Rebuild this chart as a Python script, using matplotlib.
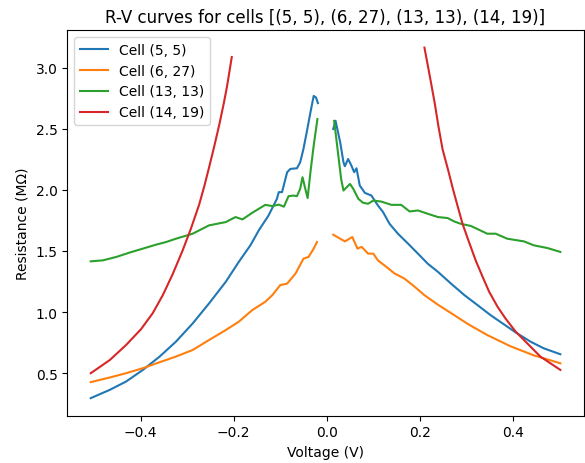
import numpy as np
import matplotlib
matplotlib.use("Agg")
import matplotlib.pyplot as plt

CELLS = ["(5, 5)", "(6, 27)", "(13, 13)", "(14, 19)"]

# Cell (5, 5)
v_5_5_neg = [-0.507, -0.466, -0.431, -0.395, -0.359, -0.324, -0.288, -0.253, -0.217,
             -0.189, -0.164, -0.146, -0.125, -0.107, -0.103, -0.096, -0.085, -0.078,
             -0.064, -0.057, -0.050, -0.043, -0.035, -0.028, -0.023, -0.019]
r_5_5_neg = [0.296, 0.364, 0.432, 0.527, 0.636, 0.758, 0.907, 1.070, 1.247,
             1.410, 1.546, 1.668, 1.790, 1.926, 1.981, 1.981, 2.144, 2.171,
             2.176, 2.225, 2.334, 2.470, 2.633, 2.768, 2.755, 2.709]
v_5_5_pos = [0.014, 0.019, 0.029, 0.036, 0.039, 0.046, 0.053, 0.059, 0.064, 0.071,
             0.082, 0.096, 0.110, 0.121, 0.135, 0.153, 0.175, 0.196, 0.217, 0.239,
             0.267, 0.296, 0.324, 0.352, 0.381, 0.409, 0.438, 0.466, 0.502]
r_5_5_pos = [2.497, 2.564, 2.388, 2.225, 2.193, 2.252, 2.198, 2.144, 2.176, 2.035,
             1.975, 1.953, 1.872, 1.818, 1.722, 1.641, 1.559, 1.478, 1.396, 1.329,
             1.233, 1.138, 1.057, 0.975, 0.899, 0.826, 0.758, 0.704, 0.655]

# Cell (6, 27)
v_6_27_neg = [-0.507, -0.466, -0.431, -0.395, -0.359, -0.324, -0.288, -0.253, -0.217,
              -0.189, -0.160, -0.132, -0.117, -0.100, -0.085, -0.067, -0.050, -0.039,
              -0.028, -0.021]
r_6_27_neg = [0.427, 0.465, 0.500, 0.541, 0.590, 0.636, 0.690, 0.771, 0.853,
              0.921, 1.016, 1.084, 1.138, 1.220, 1.233, 1.315, 1.437, 1.451,
              1.519, 1.573]
v_6_27_pos = [0.014, 0.029, 0.039, 0.055, 0.066, 0.075, 0.089, 0.100, 0.110, 0.128,
              0.146, 0.167, 0.189, 0.210, 0.239, 0.274, 0.303, 0.345, 0.395, 0.445,
              0.502]
r_6_27_pos = [1.633, 1.600, 1.578, 1.614, 1.519, 1.533, 1.478, 1.478, 1.423, 1.370,
              1.315, 1.274, 1.207, 1.138, 1.060, 0.975, 0.903, 0.812, 0.720, 0.646,
              0.581]

# Cell (13, 13)
v_13_13_neg = [-0.507, -0.481, -0.452, -0.424, -0.395, -0.367, -0.345, -0.324, -0.288,
               -0.253, -0.217, -0.196, -0.181, -0.160, -0.132, -0.117, -0.103, -0.092,
               -0.082, -0.071, -0.064, -0.057, -0.052, -0.046, -0.041, -0.035, -0.028,
               -0.020]
r_13_13_neg = [1.415, 1.423, 1.451, 1.486, 1.519, 1.551, 1.573, 1.600, 1.641,
               1.709, 1.736, 1.777, 1.758, 1.812, 1.877, 1.867, 1.879, 1.862,
               1.948, 1.953, 1.948, 2.008, 2.103, 2.008, 1.932, 2.144, 2.361,
               2.578]
v_13_13_pos = [0.016, 0.025, 0.031, 0.036, 0.043, 0.050, 0.057, 0.068, 0.078, 0.089,
               0.100, 0.117, 0.139, 0.160, 0.178, 0.196, 0.217, 0.239, 0.260, 0.274,
               0.288, 0.310, 0.345, 0.363, 0.388, 0.424, 0.445, 0.474, 0.502]
r_13_13_pos = [2.564, 2.279, 2.089, 1.994, 2.021, 2.048, 2.008, 1.926, 1.894, 1.886,
               1.912, 1.904, 1.877, 1.877, 1.823, 1.831, 1.804, 1.777, 1.769, 1.741,
               1.722, 1.704, 1.641, 1.641, 1.600, 1.578, 1.546, 1.524, 1.492]

# Cell (14, 19)
v_14_19_neg = [-0.507, -0.466, -0.431, -0.399, -0.374, -0.352, -0.331, -0.310, -0.292,
               -0.274, -0.263, -0.253, -0.242, -0.231, -0.221, -0.214, -0.204]
r_14_19_neg = [0.500, 0.608, 0.731, 0.860, 0.990, 1.140, 1.310, 1.500, 1.680,
               1.880, 2.030, 2.180, 2.350, 2.530, 2.710, 2.850, 3.086]
v_14_19_pos = [0.210, 0.221, 0.232, 0.240, 0.249, 0.261, 0.271, 0.281, 0.292, 0.306,
               0.320, 0.335, 0.349, 0.367, 0.384, 0.406, 0.431, 0.459, 0.502]
r_14_19_pos = [3.163, 2.940, 2.710, 2.520, 2.330, 2.160, 2.010, 1.870, 1.720, 1.570,
               1.423, 1.288, 1.166, 1.044, 0.948, 0.840, 0.744, 0.636, 0.527]

curves = [
    (v_5_5_neg, r_5_5_neg, v_5_5_pos, r_5_5_pos),
    (v_6_27_neg, r_6_27_neg, v_6_27_pos, r_6_27_pos),
    (v_13_13_neg, r_13_13_neg, v_13_13_pos, r_13_13_pos),
    (v_14_19_neg, r_14_19_neg, v_14_19_pos, r_14_19_pos),
]

fig, ax = plt.subplots(figsize=(5.85, 4.64), dpi=100)
fig.subplots_adjust(left=0.115, right=0.998, bottom=0.102, top=0.933)

for cell, (vn, rn, vp, rp) in zip(CELLS, curves):
    # NaN gap between the negative and positive sweeps
    v = np.concatenate([vn, [np.nan], vp])
    r = np.concatenate([rn, [np.nan], rp])
    ax.plot(v, r, label=f"Cell {cell}")

ax.set_xlabel("Voltage (V)")
ax.set_ylabel("Resistance (MΩ)")
ax.set_title("R-V curves for cells [" + ", ".join(CELLS) + "]")
ax.legend(loc="upper left")

fig.savefig("out.png", dpi=100)
